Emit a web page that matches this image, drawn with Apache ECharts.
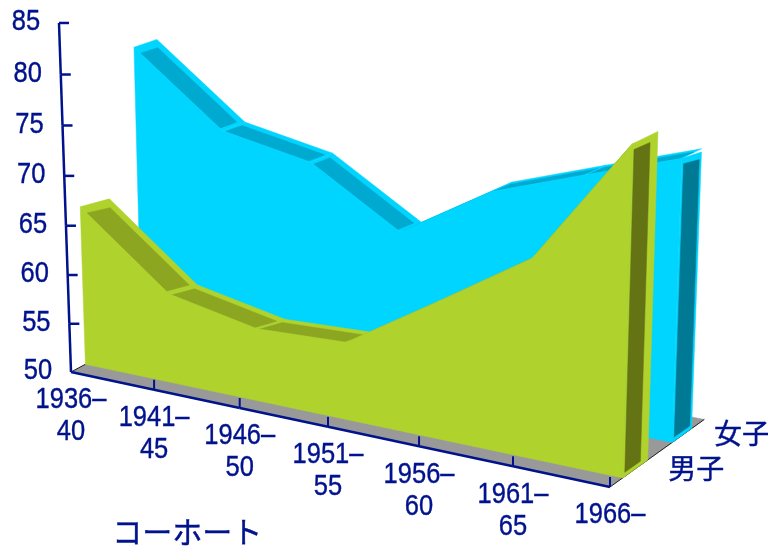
<!DOCTYPE html>
<html><head><meta charset="utf-8">
<style>html,body{margin:0;padding:0;background:#fff}#c{width:768px;height:548px}</style>
<script src="https://cdn.jsdelivr.net/npm/echarts@6/dist/echarts.min.js"></script>
</head><body><div id="c"></div>
<script>
var categories = ['1936–\n40','1941–\n45','1946–\n50','1951–\n55','1956–\n60','1961–\n65','1966–'];
var femaleValues = [79.6,72.6,70.9,65.5,71.0,74.1,77.1];
var maleValues = [66.2,59.0,57.2,57.6,63.3,69.1,81.1];
var valueTicks = [50,55,60,65,70,75,80,85];
var depthNames = ['男子','女子'];
var axisTitle = 'コーホート';

var NAVY='#00128c', MIN=50, MAX=85;
var SANS='"Liberation Sans",Arial,sans-serif', CJK='"Noto Sans CJK JP",sans-serif';
// 3D homography: x along cohorts, y along value, z into the page
function proj(x,v,z){
  var y=(v-MIN)/(MAX-MIN);
  var w=1-0.0887*x-0.038*y+0.04*z;
  var bow=20*x*(1-x)*Math.min(1,z/.13)+2*z; // slight bow of the reference's warped slabs
  return [(71+484.9*x-14.25*y+112.2*z)/w+bow,(372+71.8*x-349.9*y-44.8*z)/w];
}
var slabs=[
 {name:depthNames[1],vals:femaleValues,z0:.65,z1:.86,sag:.2,sideSag:.5,sideInset:.1,face:'#00d5ff',strip:'#00a9cf',side:'#007a94'},
 {name:depthNames[0],vals:maleValues,z0:.13,z1:.39,sag:.6,sideSag:.2,sideInset:.3,face:'#afd22c',strip:'#8ca622',side:'#647313'}
];
var N=categories.length, S=N-1;
function poly(api,pts,fill,stroke){
  return {type:'polygon',shape:{points:pts.map(function(p){return api.coord(p)})},
    style:{fill:fill,stroke:stroke||fill,lineWidth:0.5},silent:true};
}
function line(api,a,b,col,w){
  var p=api.coord(a),q=api.coord(b);
  return {type:'line',shape:{x1:p[0],y1:p[1],x2:q[0],y2:q[1]},style:{stroke:col,lineWidth:w},silent:true};
}
function label(api,p,txt,font,sx,lh){
  var c=api.coord(p);
  return {type:'text',x:c[0],y:c[1],scaleX:sx||1,silent:true,
    style:{text:txt,x:0,y:0,fill:NAVY,stroke:NAVY,lineWidth:.4,font:font,align:'center',verticalAlign:'top',lineHeight:lh||32}};
}
function floorItem(p,api){
  return {type:'group',children:[
    poly(api,[proj(0,MIN,0),proj(1,MIN,0),proj(1,MIN,1),proj(0,MIN,1)],'#999999'),
    line(api,proj(0,MIN,0),proj(0,MIN,.13),'#222',1),
    line(api,proj(1,MIN,0),proj(1,MIN,1),'#222',1)
  ]};
}
function topItem(s){return function(p,api){
  var i=api.value(0), a=s.vals[i], b=s.vals[i+1];
  var x0=i/S, x1=(i+1)/S, f=function(x){return a+(b-a)*(x-x0)/(x1-x0)};
  var xa=x0+(i===0?.012:.005), xb=x1-.005, zb=s.z1-.05, g=s.sag;
  return {type:'group',children:[
    poly(api,[proj(x0,a,s.z0),proj(x1,b,s.z0),proj(x1,b-g,s.z1),proj(x0,a-g,s.z1)],s.face),
    poly(api,[proj(xa,f(xa),s.z0),proj(xb,f(xb),s.z0),proj(xb,f(xb)-g,zb),proj(xa,f(xa)-g,zb)],s.strip)
  ]};
}}
function sideItem(s){return function(p,api){
  var t=s.vals[S], d=s.z1-s.z0, zi=s.z1-s.sideInset*d;
  return {type:'group',children:[
    poly(api,[proj(1,MIN,s.z0),proj(1,t,s.z0),proj(1,t-s.sideSag,s.z1),proj(1,MIN,s.z1)],s.face),
    poly(api,[proj(1,MIN+.4,s.z0+.02),proj(1,t-.6,s.z0+.02),proj(1,t-.6-s.sideSag,zi),proj(1,MIN+.4,zi)],s.side)
  ]};
}}
function frontItem(s){return function(p,api){
  var pts=s.vals.map(function(v,i){return proj(i/S,v,s.z0)});
  pts.push(proj(1,MIN,s.z0));pts.push(proj(0,MIN,s.z0));
  return poly(api,pts,s.face);
}}
function xAxisItem(p,api){
  var i=api.value(0), q=proj(i/S,MIN,0), kids=[];
  if(i<S){kids.push(line(api,q,proj((i+1)/S,MIN,0),NAVY,2.5));}
  if(i>0){kids.push(line(api,q,[q[0],q[1]-10],NAVY,2));}
  kids.push(label(api,[q[0],q[1]+12],categories[i],'30px '+SANS,.85));
  return {type:'group',children:kids};
}
function yAxisItem(p,api){
  var v=api.value(0), q=proj(0,v,0), kids=[];
  if(v<MAX){kids.push(line(api,q,proj(0,v+5,0),NAVY,2.5));}
  if(v>MIN){kids.push(line(api,q,[q[0]+10,q[1]],NAVY,2.5));}
  kids.push(label(api,[q[0]-33,q[1]-17],String(v),'30px '+SANS,.85));
  return {type:'group',children:kids};
}
function depthItem(p,api){
  var i=api.value(0), s=slabs[1-i], q=proj(1,MIN,(s.z0+s.z1)/2);
  return label(api,[q[0]+(i?60:61),q[1]-(i?18:17)],depthNames[i],'28px '+CJK,1);
}
function ser(data,fn){return {type:'custom',coordinateSystem:'cartesian2d',renderItem:fn,data:data,animation:false,silent:true,clip:false};}
function idx(n){var r=[];for(var i=0;i<n;i++)r.push([i]);return r;}
var series=[ser([[0]],floorItem)];
slabs.forEach(function(s){
  series.push(ser(idx(S),topItem(s)));
  series.push(ser([[0]],sideItem(s)));
  series.push(ser([[0]],frontItem(s)));
});
series.push(ser(idx(N),xAxisItem));
series.push(ser(valueTicks.map(function(v){return [v]}),yAxisItem));
series.push(ser(idx(depthNames.length),depthItem));

var chart=echarts.init(document.getElementById('c'),null,{renderer:'canvas'});
chart.setOption({
  backgroundColor:'#fff',animation:false,tooltip:{show:false},
  grid:{left:0,right:0,top:0,bottom:0},
  xAxis:{type:'value',min:0,max:768,show:false},
  yAxis:{type:'value',min:0,max:548,inverse:true,show:false},
  graphic:[{type:'text',left:112,top:516,silent:true,
    style:{text:axisTitle,fill:NAVY,stroke:NAVY,lineWidth:.4,font:'30px '+CJK}}],
  series:series
});
</script></body></html>
